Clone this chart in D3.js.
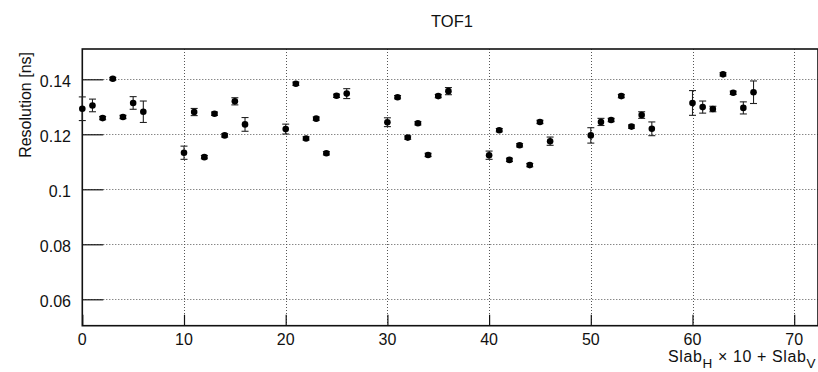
<!DOCTYPE html>
<html>
<head>
<meta charset="utf-8">
<script src="https://cdn.jsdelivr.net/npm/d3@7"></script>
<style>
  html, body { margin: 0; padding: 0; background: #fff; }
  svg { display: block; }
  text { font-family: "Liberation Sans", Arial, Helvetica, sans-serif; fill: #111; }
</style>
</head>
<body>
<svg id="chart" width="818" height="372"></svg>
<script>
// ---- data ----
const slabIndex = [0,1,2,3,4,5,6, 10,11,12,13,14,15,16, 20,21,22,23,24,25,26,
                   30,31,32,33,34,35,36, 40,41,42,43,44,45,46, 50,51,52,53,54,55,56,
                   60,61,62,63,64,65,66];
const resolution = [0.1293,0.1305,0.1259,0.1402,0.1263,0.1314,0.1282,
                    0.1133,0.1281,0.1117,0.1275,0.1196,0.1320,0.1236,
                    0.1219,0.1384,0.1185,0.1257,0.1131,0.1340,0.1348,
                    0.1244,0.1335,0.1188,0.1240,0.1125,0.1339,0.1357,
                    0.1124,0.1215,0.1107,0.1160,0.1088,0.1245,0.1175,
                    0.1196,0.1245,0.1252,0.1339,0.1228,0.1270,0.1220,
                    0.1314,0.1299,0.1292,0.1418,0.1351,0.1296,0.1353];
const resolutionErr = [0.0043,0.0023,0.0006,0.0005,0.0006,0.0023,0.0039,
                       0.0024,0.0013,0.0006,0.0006,0.0006,0.0013,0.0025,
                       0.0018,0.0006,0.0006,0.0006,0.0006,0.0006,0.0018,
                       0.0016,0.0006,0.0006,0.0006,0.0006,0.0006,0.0013,
                       0.0015,0.0006,0.0006,0.0006,0.0006,0.0006,0.0015,
                       0.0028,0.0013,0.0006,0.0006,0.0006,0.0012,0.0025,
                       0.0045,0.0022,0.0010,0.0006,0.0006,0.0022,0.0041];
const xTicks = [0,10,20,30,40,50,60,70];
const yTicks = [0.06,0.08,0.10,0.12,0.14];
const yTickLabels = ["0.06","0.08","0.1","0.12","0.14"];
const titleText = "TOF1";
const yTitle = "Resolution [ns]";

// ---- layout ----
const svg = d3.select("#chart");
const L = 82.3, R = 818, T = 49, B = 325.7;
const x = d3.scaleLinear().domain([0, 72.34]).range([L, R]);
const y = d3.scaleLinear().domain([0.0504, 0.15102]).range([B, T]);

// grid
const grid = svg.append("g").attr("stroke", "#555").attr("stroke-width", 1)
  .attr("stroke-dasharray", "1,2");
grid.selectAll(".vg").data(xTicks).join("line")
  .attr("x1", d => Math.round(x(d)) + 0.5).attr("x2", d => Math.round(x(d)) + 0.5)
  .attr("y1", T).attr("y2", B);
grid.selectAll(".hg").data(yTicks).join("line")
  .attr("y1", d => Math.round(y(d)) + 0.5).attr("y2", d => Math.round(y(d)) + 0.5)
  .attr("x1", L).attr("x2", R);

// axes via d3
const xAxis = d3.axisTop(x).tickValues(xTicks).tickSize(11).tickFormat("");
const gx = svg.append("g").attr("transform", `translate(0,${B})`).call(xAxis);
gx.select(".domain").remove();
gx.selectAll(".tick line").attr("stroke", "#111").attr("stroke-width", 1.2);

const yAxis = d3.axisRight(y).tickValues(yTicks).tickSize(21).tickFormat("");
const gy = svg.append("g").attr("transform", `translate(${L},0)`).call(yAxis);
gy.select(".domain").remove();
gy.selectAll(".tick line").attr("stroke", "#111").attr("stroke-width", 1.2);

// tick labels
svg.append("g").selectAll("text").data(xTicks).join("text")
  .attr("x", d => x(d)).attr("y", 345)
  .attr("text-anchor", "middle").attr("font-size", 16)
  .text(d => d);
svg.append("g").selectAll("text").data(yTicks).join("text")
  .attr("x", 71).attr("y", d => y(d) + 7.5)
  .attr("text-anchor", "end").attr("font-size", 16)
  .text((d, i) => yTickLabels[i]);

// frame
svg.append("rect").attr("x", L).attr("y", T).attr("width", R - L).attr("height", B - T)
  .attr("fill", "none").attr("stroke", "#111").attr("stroke-width", 1.6);

// error bars
const eb = svg.append("g").attr("stroke", "#222").attr("stroke-width", 1.1);
const pts = slabIndex.map((s, i) => ({s, v: resolution[i], e: resolutionErr[i]}));
eb.selectAll(".bar").data(pts).join("line")
  .attr("x1", d => x(d.s)).attr("x2", d => x(d.s))
  .attr("y1", d => y(d.v + d.e)).attr("y2", d => y(d.v - d.e));
eb.selectAll(".capt").data(pts).join("line")
  .attr("x1", d => x(d.s) - 3.5).attr("x2", d => x(d.s) + 3.5)
  .attr("y1", d => y(d.v + d.e)).attr("y2", d => y(d.v + d.e));
eb.selectAll(".capb").data(pts).join("line")
  .attr("x1", d => x(d.s) - 3.5).attr("x2", d => x(d.s) + 3.5)
  .attr("y1", d => y(d.v - d.e)).attr("y2", d => y(d.v - d.e));

// markers
svg.append("g").selectAll("circle").data(pts).join("circle")
  .attr("cx", d => x(d.s)).attr("cy", d => y(d.v)).attr("r", 3.3)
  .attr("fill", "#000");

// titles
svg.append("text").attr("x", 452).attr("y", 27).attr("text-anchor", "middle")
  .attr("font-size", 16.5).text(titleText);

svg.append("text").attr("transform", "translate(31,52) rotate(-90)")
  .attr("text-anchor", "end").attr("font-size", 16).text(yTitle);

const xt = svg.append("text").attr("x", 816).attr("y", 362)
  .attr("text-anchor", "end").attr("font-size", 16).attr("letter-spacing", 0.6);
xt.append("tspan").text("Slab");
xt.append("tspan").attr("font-size", 13.5).attr("dy", 6).text("H");
xt.append("tspan").attr("dy", -6).text(" \u00d7 10 + Slab");
xt.append("tspan").attr("font-size", 13.5).attr("dy", 6).text("V");
</script>
</body>
</html>
